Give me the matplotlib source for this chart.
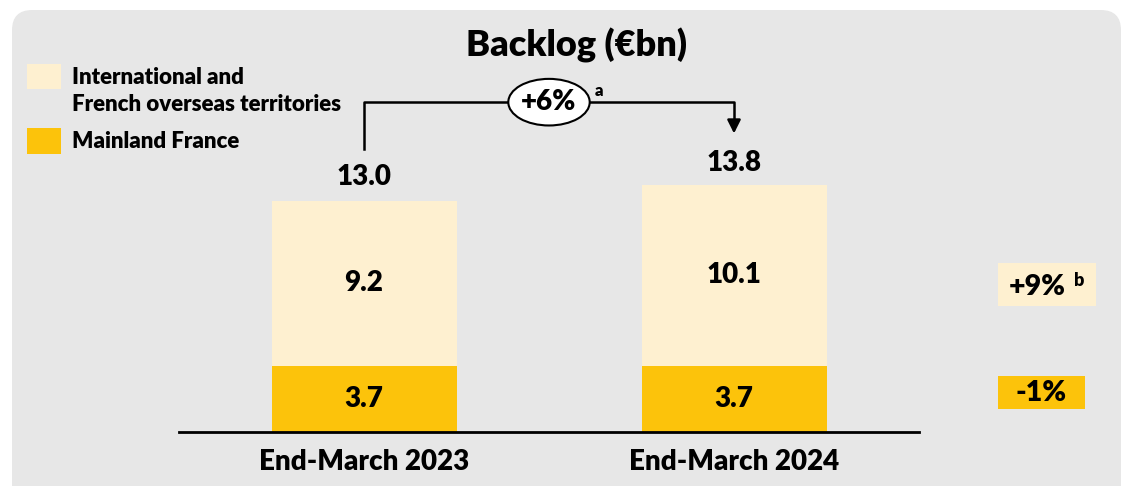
import matplotlib.pyplot as plt
from matplotlib.patches import FancyBboxPatch, Rectangle, Ellipse

plt.rcParams['font.family'] = ['Lato', 'DejaVu Sans']
plt.rcParams['font.weight'] = 'heavy'

# data
categories = ['End-March 2023', 'End-March 2024']
mainland = [3.7, 3.7]
international = [9.2, 10.1]
totals = [13.0, 13.8]
growth_total = '+6%'
growth_intl = '+9%'
growth_mainland = '-1%'

gold = '#FCC30B'
cream = '#FEF0D0'
panel = '#E7E7E7'

W, H = 1122, 486
fig = plt.figure(figsize=(W / 100, H / 100), dpi=100)
fig.patch.set_facecolor('white')


def fx(x):
    return x / W


def fy(y):
    return 1 - y / H


# grey rounded panel
fig.patches.append(FancyBboxPatch((fx(12), fy(520)), fx(1109), fy(10) - fy(520),
                                  boxstyle='round,pad=0,rounding_size=0.018',
                                  transform=fig.transFigure, facecolor=panel,
                                  edgecolor='none', zorder=-5, mutation_aspect=W / H))

ax = fig.add_axes([fx(179), fy(432), fx(740), fy(0) - fy(432)])
ax.set_zorder(2)
ax.set_facecolor('none')
ax.set_xlim(-0.5, 1.5)
ax.set_ylim(0, 24.1)

x = range(len(categories))
ax.bar(x, mainland, width=0.5, color=gold)
ax.bar(x, international, width=0.5, bottom=mainland, color=cream)

for i in x:
    ax.text(i, mainland[i] / 2, f'{mainland[i]:.1f}', ha='center', va='center', fontsize=20)
    ax.text(i, mainland[i] + international[i] / 2, f'{international[i]:.1f}',
            ha='center', va='center', fontsize=20)
    ax.text(i, totals[i] + 1.2, f'{totals[i]:.1f}', ha='center', va='center', fontsize=20)

for s in ['top', 'left', 'right']:
    ax.spines[s].set_visible(False)
ax.spines['bottom'].set_linewidth(2)
ax.set_yticks([])
ax.set_xticks(list(x))
ax.set_xticklabels(categories, fontsize=20)
ax.tick_params(axis='x', length=0, pad=12)

# growth bracket
y_top = max(totals) + 4.6
ax.plot([0, 0, 1, 1], [totals[0] + 2.8, y_top, y_top, totals[1] + 3.6], color='black', lw=1.8)
ax.annotate('', xy=(1, totals[1] + 2.7), xytext=(1, totals[1] + 3.7),
            arrowprops=dict(arrowstyle='-|>,head_width=0.4,head_length=0.8',
                            color='black', lw=1.8))
ax.add_patch(Ellipse((0.5, y_top), 0.22, 2.6, facecolor='white', edgecolor='black', lw=1.5, zorder=3))
ax.text(0.5, y_top, growth_total, ha='center', va='center', fontsize=20, zorder=4)
ax.text(0.634, y_top + 0.65, 'a', ha='center', va='center', fontsize=12)

# title
fig.text(fx(576), fy(45), 'Backlog (€bn)', ha='center', va='center', fontsize=26)

# legend
fig.patches.append(Rectangle((fx(27), fy(89)), fx(34), fy(64) - fy(89),
                             transform=fig.transFigure, facecolor=cream, edgecolor='none'))
fig.patches.append(Rectangle((fx(27), fy(154)), fx(34), fy(128) - fy(154),
                             transform=fig.transFigure, facecolor=gold, edgecolor='none'))
fig.text(fx(72), fy(91), 'International and\nFrench overseas territories', ha='left',
         va='center', fontsize=16, linespacing=1.3)
fig.text(fx(72), fy(142), 'Mainland France', ha='left', va='center', fontsize=16)

# right-hand growth boxes
fig.patches.append(Rectangle((fx(998), fy(306)), fx(98), fy(263) - fy(306),
                             transform=fig.transFigure, facecolor=cream, edgecolor='none'))
fig.text(fx(1037), fy(287), growth_intl, ha='center', va='center', fontsize=20.5)
fig.text(fx(1079), fy(281), 'b', ha='center', va='center', fontsize=13)
fig.patches.append(Rectangle((fx(998), fy(409)), fx(87), fy(376) - fy(409),
                             transform=fig.transFigure, facecolor=gold, edgecolor='none'))
fig.text(fx(1041), fy(393), growth_mainland, ha='center', va='center', fontsize=20.5)

fig.savefig('out.png', dpi=100)
